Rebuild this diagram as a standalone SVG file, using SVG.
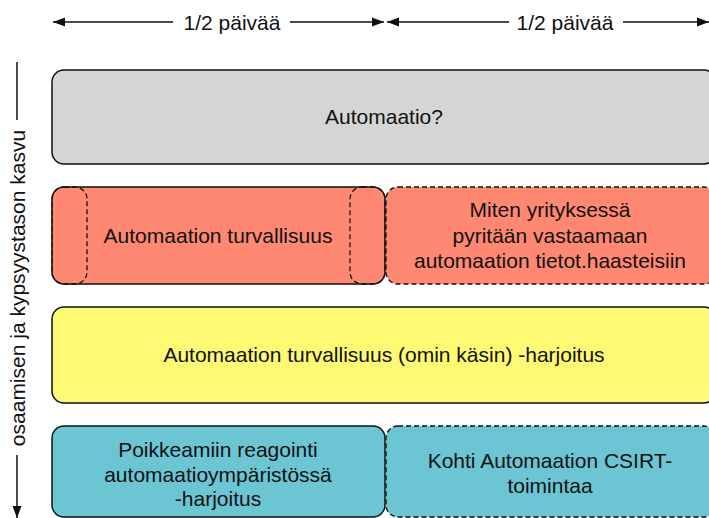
<svg xmlns="http://www.w3.org/2000/svg" width="709" height="518" viewBox="0 0 709 518">
  <style>
    text { font-family: "Liberation Sans", Arial, sans-serif; font-size: 21px; fill: #111; text-anchor: middle; }
    .box { stroke: #111; stroke-width: 1.5; }
    .dash { stroke: #111; stroke-width: 1.3; stroke-dasharray: 5 3; fill: none; }
    .gray { fill: #D5D5D5; }
    .salmon { fill: #FE8871; }
    .yellow { fill: #FFFA73; }
    .teal { fill: #6BC5D3; }
    .axis { stroke: #111; stroke-width: 1.5; fill: none; }
  </style>
  <defs>
    <marker id="head" viewBox="0 0 12 10" refX="12" refY="5" markerWidth="12" markerHeight="10" markerUnits="userSpaceOnUse" orient="auto">
      <path d="M0,0.5 L12,5 L0,9.5 Z" fill="#111"/>
    </marker>
  </defs>

  <rect width="709" height="518" fill="#fff"/>

  <!-- time scale along the top -->
  <g id="scale-top">
    <line class="axis" x1="173" y1="22" x2="53" y2="22" marker-end="url(#head)"/>
    <line class="axis" x1="290" y1="22" x2="384" y2="22" marker-end="url(#head)"/>
    <text x="232" y="29.5">1/2 päivää</text>
    <line class="axis" x1="509" y1="22" x2="387" y2="22" marker-end="url(#head)"/>
    <line class="axis" x1="623" y1="22" x2="709" y2="22" marker-end="url(#head)"/>
    <text x="565" y="29.5">1/2 päivää</text>
  </g>

  <!-- growth axis on the left -->
  <g id="scale-left">
    <line class="axis" x1="17" y1="62" x2="17" y2="120"/>
    <line class="axis" x1="17" y1="455" x2="17" y2="518" marker-end="url(#head)"/>
    <text transform="translate(24.5,288) rotate(-90)" x="0" y="0">osaamisen ja kypsyystason kasvu</text>
  </g>

  <g id="automaatio">
    <rect class="box gray" x="52" y="70" width="664" height="94" rx="12"/>
    <text x="384" y="124">Automaatio?</text>
  </g>

  <g id="turvallisuus">
    <rect class="box salmon" x="52" y="187" width="333" height="97" rx="12"/>
    <rect class="dash" x="52" y="187" width="35" height="97" rx="12"/>
    <rect class="dash" x="350" y="187" width="35" height="97" rx="12"/>
    <text x="218" y="243">Automaation turvallisuus</text>
  </g>

  <g id="vastaaminen">
    <rect class="dash salmon" x="386" y="187" width="330" height="97" rx="12"/>
    <text x="550" y="217">Miten yrityksessä</text>
    <text x="550" y="242.5">pyritään vastaamaan</text>
    <text x="550" y="268">automaation tietot.haasteisiin</text>
  </g>

  <g id="harjoitus">
    <rect class="box yellow" x="52" y="307" width="664" height="96" rx="12"/>
    <text x="384" y="362">Automaation turvallisuus (omin käsin) -harjoitus</text>
  </g>

  <g id="poikkeamat">
    <rect class="box teal" x="52" y="426" width="333" height="91" rx="12"/>
    <text x="218" y="457">Poikkeamiin reagointi</text>
    <text x="218" y="481.5">automaatioympäristössä</text>
    <text x="218" y="506">-harjoitus</text>
  </g>

  <g id="csirt">
    <rect class="dash teal" x="386" y="426" width="330" height="91" rx="12"/>
    <text x="550" y="468">Kohti Automaation CSIRT-</text>
    <text x="550" y="492.5">toimintaa</text>
  </g>
</svg>
